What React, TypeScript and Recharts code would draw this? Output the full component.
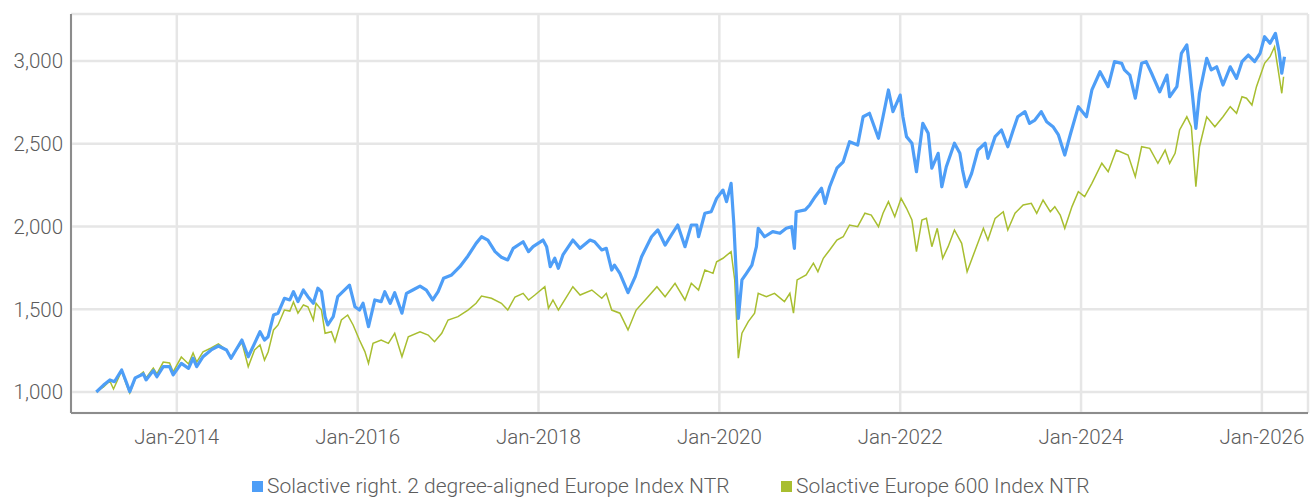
import { LineChart, Line, XAxis, YAxis, CartesianGrid, Legend } from "recharts";

// decimal years
const blueDates = [
  2013.11, 2013.19, 2013.26, 2013.31, 2013.39, 2013.44, 2013.48, 2013.54, 2013.63, 2013.66,
  2013.74, 2013.78, 2013.85, 2013.92, 2013.96, 2014.05, 2014.13, 2014.18, 2014.22, 2014.29,
  2014.38, 2014.46, 2014.55, 2014.6, 2014.72, 2014.79, 2014.86, 2014.92, 2014.97, 2015.01,
  2015.07, 2015.12, 2015.19, 2015.25, 2015.29, 2015.34, 2015.4, 2015.45, 2015.51, 2015.56,
  2015.6, 2015.64, 2015.67, 2015.73, 2015.78, 2015.91, 2015.97, 2016.02, 2016.06, 2016.12,
  2016.19, 2016.26, 2016.3, 2016.36, 2016.41, 2016.49, 2016.54, 2016.61, 2016.69, 2016.76,
  2016.83, 2016.89, 2016.95, 2017.04, 2017.13, 2017.22, 2017.31, 2017.37, 2017.44, 2017.52,
  2017.59, 2017.66, 2017.72, 2017.83, 2017.89, 2017.94, 2018.05, 2018.09, 2018.13, 2018.18,
  2018.22, 2018.27, 2018.38, 2018.46, 2018.57, 2018.62, 2018.7, 2018.75, 2018.81, 2018.84,
  2018.9, 2018.99, 2019.07, 2019.14, 2019.25, 2019.32, 2019.4, 2019.47, 2019.54, 2019.62,
  2019.69, 2019.75, 2019.77, 2019.84, 2019.91, 2019.97, 2020.04, 2020.08, 2020.13, 2020.16,
  2020.19, 2020.21, 2020.25, 2020.3, 2020.36, 2020.41, 2020.43, 2020.5, 2020.59, 2020.67,
  2020.74, 2020.8, 2020.83, 2020.85, 2020.95, 2021.0, 2021.06, 2021.13, 2021.17, 2021.22,
  2021.3, 2021.37, 2021.44, 2021.53, 2021.59, 2021.66, 2021.76, 2021.81, 2021.87, 2021.92,
  2022.0, 2022.03, 2022.07, 2022.13, 2022.18, 2022.25, 2022.31, 2022.35, 2022.42, 2022.46,
  2022.51, 2022.6, 2022.66, 2022.69, 2022.73, 2022.79, 2022.86, 2022.94, 2022.97, 2023.05,
  2023.12, 2023.19, 2023.25, 2023.3, 2023.38, 2023.43, 2023.49, 2023.56, 2023.62, 2023.69,
  2023.75, 2023.82, 2023.88, 2023.97, 2024.06, 2024.12, 2024.21, 2024.3, 2024.37, 2024.45,
  2024.48, 2024.54, 2024.6, 2024.67, 2024.72, 2024.78, 2024.87, 2024.95, 2024.98, 2025.06,
  2025.11, 2025.17, 2025.2, 2025.27, 2025.31, 2025.39, 2025.44, 2025.5, 2025.57, 2025.65,
  2025.72, 2025.78, 2025.85, 2025.92, 2025.98, 2026.03, 2026.09, 2026.15, 2026.19, 2026.22,
  2026.25,
];

const blueValues = [
  1000, 1042, 1073, 1062, 1133, 1062, 1002, 1085, 1109, 1073,
  1129, 1092, 1153, 1153, 1103, 1173, 1143, 1204, 1153, 1213,
  1254, 1278, 1254, 1204, 1314, 1213, 1294, 1364, 1314, 1334,
  1465, 1476, 1566, 1556, 1606, 1546, 1616, 1576, 1536, 1627,
  1606, 1455, 1405, 1455, 1576, 1646, 1515, 1495, 1536, 1395,
  1556, 1546, 1606, 1536, 1600, 1476, 1596, 1616, 1640, 1616,
  1556, 1606, 1687, 1707, 1757, 1822, 1898, 1938, 1918, 1848,
  1814, 1798, 1868, 1908, 1848, 1878, 1918, 1878, 1757, 1808,
  1747, 1828, 1918, 1868, 1918, 1908, 1858, 1868, 1737, 1767,
  1717, 1600, 1697, 1817, 1938, 1979, 1888, 1949, 2009, 1878,
  2009, 2009, 1938, 2080, 2089, 2170, 2220, 2150, 2261, 2019,
  1677, 1445, 1677, 1717, 1767, 1878, 1989, 1938, 1969, 1959,
  1989, 1999, 1868, 2089, 2100, 2130, 2180, 2231, 2140, 2240,
  2352, 2391, 2512, 2492, 2663, 2684, 2533, 2663, 2825, 2694,
  2794, 2663, 2543, 2503, 2331, 2623, 2563, 2352, 2442, 2240,
  2361, 2503, 2442, 2341, 2240, 2321, 2462, 2503, 2412, 2543,
  2583, 2482, 2583, 2663, 2694, 2623, 2643, 2694, 2633, 2603,
  2553, 2432, 2553, 2724, 2663, 2825, 2935, 2845, 2996, 2986,
  2946, 2915, 2775, 2986, 2996, 2926, 2814, 2915, 2784, 2845,
  3046, 3097, 2965, 2593, 2805, 3016, 2946, 2965, 2855, 2965,
  2895, 2996, 3036, 2996, 3046, 3147, 3107, 3167, 3056, 2926,
  3026,
];

const greenDates = [
  2013.11, 2013.19, 2013.26, 2013.3, 2013.39, 2013.44, 2013.48, 2013.54, 2013.63, 2013.66,
  2013.74, 2013.78, 2013.85, 2013.92, 2013.96, 2014.05, 2014.13, 2014.18, 2014.22, 2014.29,
  2014.38, 2014.46, 2014.55, 2014.6, 2014.72, 2014.79, 2014.86, 2014.92, 2014.97, 2015.01,
  2015.07, 2015.12, 2015.19, 2015.25, 2015.29, 2015.34, 2015.4, 2015.45, 2015.51, 2015.54,
  2015.6, 2015.64, 2015.71, 2015.75, 2015.82, 2015.89, 2015.95, 2016.02, 2016.08, 2016.12,
  2016.17, 2016.26, 2016.34, 2016.41, 2016.49, 2016.56, 2016.69, 2016.78, 2016.85, 2016.93,
  2017.0, 2017.11, 2017.22, 2017.31, 2017.37, 2017.48, 2017.59, 2017.66, 2017.74, 2017.83,
  2017.89, 2017.96, 2018.07, 2018.11, 2018.16, 2018.22, 2018.29, 2018.38, 2018.46, 2018.59,
  2018.7, 2018.75, 2018.81, 2018.9, 2018.99, 2019.08, 2019.18, 2019.31, 2019.4, 2019.51,
  2019.62, 2019.69, 2019.77, 2019.84, 2019.93, 2019.97, 2020.04, 2020.13, 2020.17, 2020.21,
  2020.25, 2020.32, 2020.39, 2020.43, 2020.52, 2020.61, 2020.72, 2020.78, 2020.82, 2020.86,
  2020.96, 2021.04, 2021.09, 2021.15, 2021.22, 2021.3, 2021.37, 2021.44, 2021.53, 2021.61,
  2021.68, 2021.76, 2021.81, 2021.87, 2021.94, 2022.01, 2022.07, 2022.13, 2022.18, 2022.24,
  2022.29, 2022.35, 2022.41, 2022.47, 2022.53, 2022.6, 2022.68, 2022.74, 2022.83, 2022.92,
  2022.97, 2023.05, 2023.14, 2023.19, 2023.27, 2023.36, 2023.45, 2023.51, 2023.58, 2023.66,
  2023.71, 2023.77, 2023.82, 2023.9, 2023.97, 2024.04, 2024.12, 2024.23, 2024.3, 2024.39,
  2024.52, 2024.6, 2024.67, 2024.76, 2024.85, 2024.93, 2024.98, 2025.04, 2025.09, 2025.17,
  2025.22, 2025.27, 2025.31, 2025.39, 2025.48, 2025.57, 2025.65, 2025.72, 2025.78, 2025.83,
  2025.89, 2025.94, 2026.03, 2026.09, 2026.14, 2026.18, 2026.22, 2026.24,
];

const greenValues = [
  1000, 1030, 1066, 1018, 1127, 1048, 994, 1079, 1121, 1085,
  1145, 1109, 1181, 1175, 1121, 1211, 1169, 1236, 1181, 1242,
  1266, 1290, 1254, 1211, 1300, 1153, 1254, 1284, 1193, 1242,
  1375, 1405, 1495, 1489, 1544, 1477, 1526, 1515, 1435, 1536,
  1495, 1355, 1364, 1304, 1435, 1465, 1405, 1314, 1244, 1173,
  1294, 1314, 1294, 1355, 1213, 1334, 1364, 1344, 1304, 1355,
  1435, 1455, 1495, 1536, 1580, 1566, 1536, 1495, 1574, 1596,
  1556, 1586, 1636, 1506, 1556, 1495, 1556, 1636, 1586, 1616,
  1566, 1596, 1495, 1476, 1375, 1495, 1556, 1636, 1576, 1657,
  1556, 1657, 1616, 1737, 1717, 1787, 1808, 1848, 1677, 1204,
  1355, 1425, 1476, 1596, 1576, 1596, 1546, 1596, 1476, 1677,
  1707, 1778, 1727, 1808, 1858, 1918, 1938, 2009, 1999, 2080,
  2069, 1999, 2080, 2150, 2059, 2170, 2110, 2039, 1848, 2039,
  2049, 1878, 1989, 1808, 1878, 1979, 1898, 1727, 1858, 1989,
  1918, 2049, 2089, 1979, 2080, 2130, 2140, 2080, 2160, 2089,
  2120, 2069, 1989, 2120, 2210, 2180, 2261, 2382, 2331, 2462,
  2432, 2301, 2482, 2472, 2382, 2462, 2382, 2442, 2583, 2663,
  2603, 2240, 2482, 2663, 2603, 2663, 2724, 2684, 2784, 2775,
  2734, 2845, 2986, 3026, 3086, 2946, 2805, 2905,
];

const yearTicks = [2014, 2016, 2018, 2020, 2022, 2024, 2026];
const valueTicks = [1000, 1500, 2000, 2500, 3000];

const seriesNames = [
  "Solactive right. 2 degree-aligned Europe Index NTR",
  "Solactive Europe 600 Index NTR",
];
const seriesColors = ["#4e9ef7", "#a8be30"];

const blueData = blueDates.map((t, i) => ({ t, v: blueValues[i] }));
const greenData = greenDates.map((t, i) => ({ t, v: greenValues[i] }));

const font = "Roboto, 'Liberation Sans', sans-serif";
const tickStyle = { fontSize: 20.5, fill: "#5c5c5c", fontFamily: font, fontWeight: 300 };

const LegendContent = () => (
  <div
    style={{
      display: "flex",
      alignItems: "center",
      paddingLeft: 252,
      paddingTop: 11,
      fontFamily: font,
      fontWeight: 300,
      fontSize: 21,
      color: "#5c5c5c",
    }}
  >
    {seriesNames.map((name, i) => (
      <div
        key={name}
        style={{ display: "flex", alignItems: "center", width: i === 0 ? 529 : "auto" }}
      >
        <span
          style={{
            display: "inline-block",
            width: 11,
            height: 11,
            background: seriesColors[i],
            marginRight: 4,
          }}
        />
        <span>{name}</span>
      </div>
    ))}
  </div>
);

const App = () => {
  return (
    <div style={{ position: "absolute", left: 0, top: 0 }}>
      <LineChart width={1315} height={498} margin={{ top: 14, right: 7, bottom: 0, left: 0 }}>
        <CartesianGrid stroke="#e6e6e6" strokeWidth={2.5} />
        <XAxis
          dataKey="t"
          type="number"
          domain={[2012.83, 2026.51]}
          ticks={yearTicks}
          tickFormatter={(v) => `Jan-${v}`}
          allowDataOverflow
          height={50}
          tickLine={false}
          tickSize={0}
          tickMargin={16}
          axisLine={{ stroke: "#8c8c8c", strokeWidth: 2 }}
          tick={tickStyle}
        />
        <YAxis
          type="number"
          domain={[873, 3284]}
          ticks={valueTicks}
          tickFormatter={(v) => v.toLocaleString("en-US")}
          allowDataOverflow
          width={71}
          tickLine={false}
          tickSize={0}
          tickMargin={8}
          axisLine={{ stroke: "#8c8c8c", strokeWidth: 2 }}
          tick={tickStyle}
        />
        <Legend
          verticalAlign="bottom"
          height={35}
          wrapperStyle={{ left: 0, width: 1315 }}
          content={<LegendContent />}
        />
        <Line
          data={greenData}
          dataKey="v"
          name={seriesNames[1]}
          stroke={seriesColors[1]}
          strokeWidth={1.5}
          dot={false}
          isAnimationActive={false}
        />
        <Line
          data={blueData}
          dataKey="v"
          name={seriesNames[0]}
          stroke={seriesColors[0]}
          strokeWidth={3.2}
          strokeLinejoin="round"
          dot={false}
          isAnimationActive={false}
        />
      </LineChart>
    </div>
  );
};

export default App;
